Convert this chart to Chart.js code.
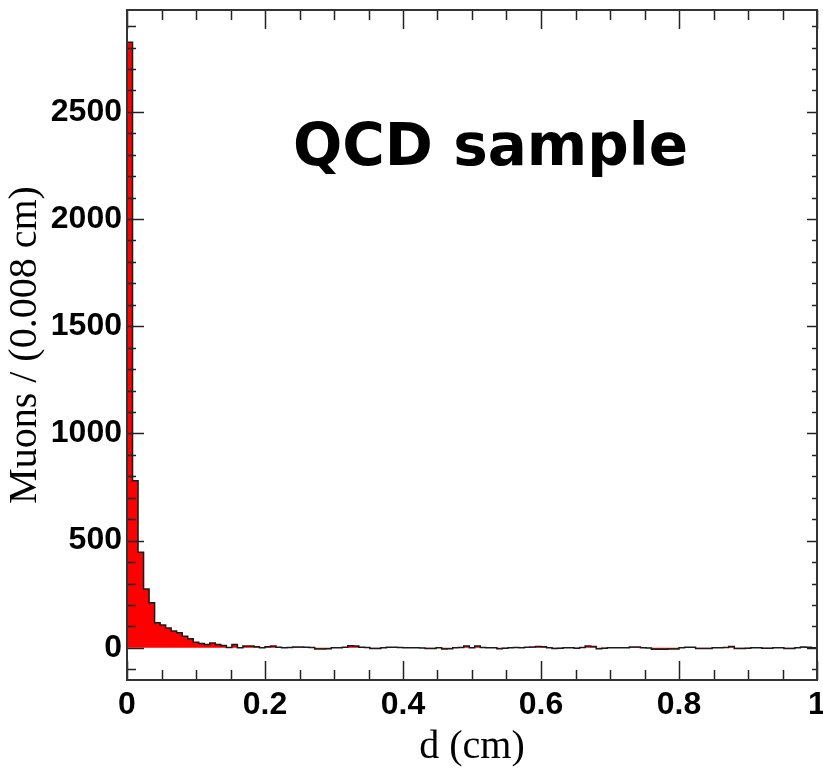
<!DOCTYPE html>
<html>
<head>
<meta charset="utf-8">
<script src="https://cdn.jsdelivr.net/npm/chart.js@4"></script>
<style>
  body { margin: 0; background: #fff; }
  #wrap { width: 823px; height: 772px; }
</style>
</head>
<body>
<div id="wrap"><canvas id="chart" width="823" height="772"></canvas></div>
<script>
// histogram of d (cm), 125 bins of 0.008 cm from 0 to 1
const binWidth = 0.008
const counts = [
  2825, 779, 446, 274, 210, 117, 107, 93, 78, 70,
  54, 42, 26, 20, 16, 22, 16, 11, 2, 16,
  0, 8, 8, 5, 0, 5, 8, 3, 0, 2,
  4, 4, 3, 2, -5, -5, -4, 1, 0, 3,
  10, 9, 3, 2, -3, -3, 0, 3, 3, 2,
  0, 1, 0, -1, -3, -3, 0, -5, -4, 1,
  2, 8, 1, 8, 2, 0, 0, -4, -2, 0,
  2, 1, 3, 4, 6, 5, 0, -3, -2, 0,
  0, -2, 2, 8, 6, -4, -2, 0, 1, 0,
  0, 4, 4, 0, -1, -6, -6, -6, -5, -5,
  0, 3, 3, -3, -3, -3, 0, 1, 2, 6,
  -3, -3, -2, 0, 1, -2, -2, 0, 1, -3,
  -3, 0, 4, 3, 0
]
const xTicks = [0, 0.2, 0.4, 0.6, 0.8, 1]
const xTickLabels = ['0', '0.2', '0.4', '0.6', '0.8', '1']
const yTicks = [0, 500, 1000, 1500, 2000, 2500]
const yTickLabels = ['0', '500', '1000', '1500', '2000', '2500']
const xMinorStep = 0.05
const yMinorStep = 100
const xRange = [0, 1]
const yRange = [-150, 2975]
const xTitle = 'd (cm)'
const yTitle = 'Muons / (0.008 cm)'
const label = 'QCD sample'

// step points at the left edge of each bin, plus the closing edge
const points = counts.map((c, i) => ({ x: i * binWidth, y: c }))
points.push({ x: counts.length * binWidth, y: counts[counts.length - 1] })

const frameTicks = {
  id: 'frameTicks',
  afterDatasetsDraw(chart) {
    const { ctx, chartArea: a, scales: { x, y } } = chart
    ctx.save()
    ctx.strokeStyle = '#222'
    ctx.lineWidth = 1.5
    const isMajor = (v, list) => list.some(t => Math.abs(t - v) < 1e-6)
    // x ticks, bottom and top
    for (let v = xRange[0]; v <= xRange[1] + 1e-9; v += xMinorStep) {
      const px = Math.round(x.getPixelForValue(v)) + 0.5
      const major = isMajor(v, xTicks)
      ctx.beginPath()
      ctx.moveTo(px, a.bottom); ctx.lineTo(px, a.bottom - (major ? 19 : 10))
      ctx.moveTo(px, a.top); ctx.lineTo(px, a.top + (major ? 19 : 10))
      ctx.stroke()
    }
    // y ticks, left and right
    for (let v = -100; v <= yRange[1]; v += yMinorStep) {
      const py = Math.round(y.getPixelForValue(v)) + 0.5
      const major = isMajor(v, yTicks)
      ctx.beginPath()
      ctx.moveTo(a.left, py); ctx.lineTo(a.left + (major ? 17 : 9), py)
      ctx.moveTo(a.right, py); ctx.lineTo(a.right - (major ? 10 : 5), py)
      ctx.stroke()
    }
    ctx.strokeStyle = '#333'
    ctx.lineWidth = 2
    ctx.strokeRect(a.left, a.top, a.right - a.left, a.bottom - a.top)
    // sample label
    ctx.fillStyle = '#000'
    ctx.font = 'bold 58px "DejaVu Sans"'
    ctx.textBaseline = 'alphabetic'
    ctx.fillText(label, a.left + 166, a.top + 155)
    ctx.restore()
  }
}

new Chart(document.getElementById('chart'), {
  type: 'line',
  data: {
    datasets: [{
      data: points,
      stepped: 'before',
      borderColor: '#1a1a1a',
      borderWidth: 1.5,
      backgroundColor: '#ff0000',
      fill: 'origin',
      pointRadius: 0,
      tension: 0
    }]
  },
  options: {
    responsive: false,
    animation: false,
    layout: { padding: { left: 0, right: 6, top: 10, bottom: 0 } },
    plugins: { legend: { display: false }, tooltip: { enabled: false } },
    scales: {
      x: {
        type: 'linear', min: xRange[0], max: xRange[1],
        afterBuildTicks: s => { s.ticks = xTicks.map(v => ({ value: v })) },
        afterFit: s => { s.height = 92; s.paddingLeft = 0; s.paddingRight = 0 },
        grid: { display: false, drawTicks: false },
        border: { display: false },
        ticks: {
          padding: 6, color: '#000', maxRotation: 0, autoSkip: false,
          font: { family: '"Liberation Sans", Arial', weight: 'bold', size: 32 },
          callback: v => xTickLabels[xTicks.findIndex(t => Math.abs(t - v) < 1e-6)]
        },
        title: {
          display: true, text: xTitle, color: '#000',
          font: { family: '"Liberation Serif", "Times New Roman"', size: 40 },
          padding: { top: 0, bottom: 1 }
        }
      },
      y: {
        type: 'linear', min: yRange[0], max: yRange[1],
        afterBuildTicks: s => { s.ticks = yTicks.map(v => ({ value: v })) },
        afterFit: s => { s.width = 127; s.paddingTop = 0; s.paddingBottom = 0 },
        grid: { display: false, drawTicks: false },
        border: { display: false },
        ticks: {
          padding: 5, color: '#000', autoSkip: false,
          font: { family: '"Liberation Sans", Arial', weight: 'bold', size: 32 },
          callback: v => yTickLabels[yTicks.indexOf(v)]
        },
        title: {
          display: true, text: yTitle, color: '#000',
          font: { family: '"Liberation Serif", "Times New Roman"', size: 40 },
          padding: { top: 1, bottom: 0 }
        }
      }
    }
  },
  plugins: [frameTicks]
})
</script>
</body>
</html>
